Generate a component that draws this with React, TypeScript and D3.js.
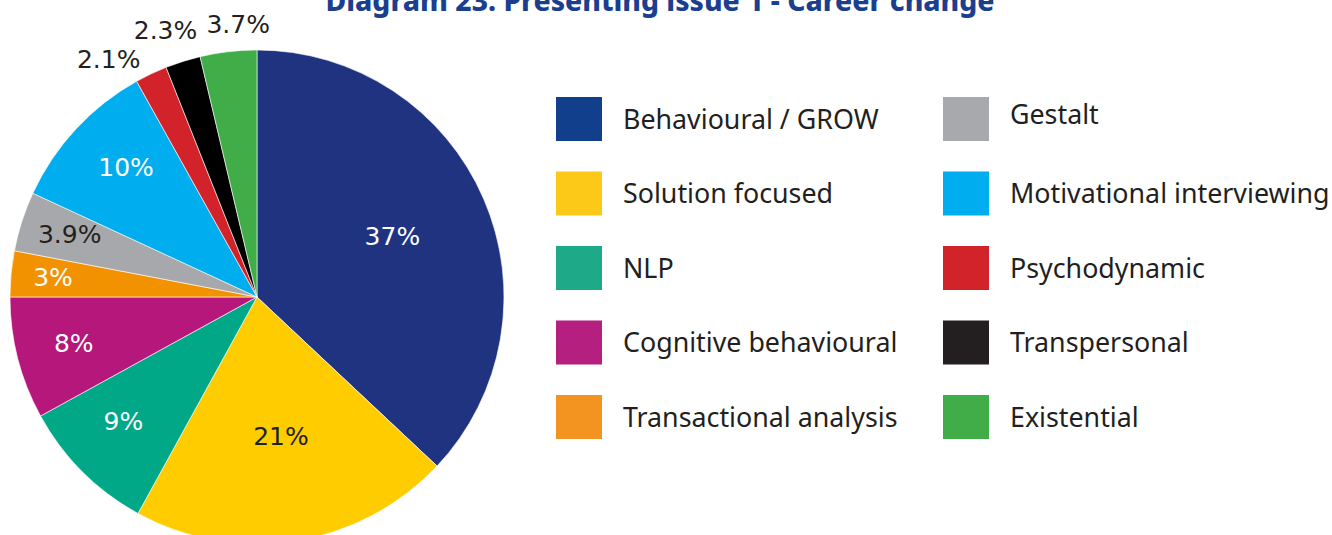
import React from "react";
import * as d3 from "d3";

const categories = [
  "Behavioural / GROW",
  "Solution focused",
  "NLP",
  "Cognitive behavioural",
  "Transactional analysis",
  "Gestalt",
  "Motivational interviewing",
  "Psychodynamic",
  "Transpersonal",
  "Existential",
];
const values = [37, 21, 9, 8, 3, 3.9, 10, 2.1, 2.3, 3.7];
const labels = ["37%", "21%", "9%", "8%", "3%", "3.9%", "10%", "2.1%", "2.3%", "3.7%"];

const sliceColors = ["#1f3380", "#ffcc00", "#00a887", "#b5177a", "#f39200", "#a7a8ab", "#00aeef", "#d2232a", "#000000", "#41ad49"];
const legendColors = ["#123f8c", "#fdc918", "#1eaa88", "#b51f80", "#f39320", "#a7a9ac", "#00aeef", "#d2232a", "#231f20", "#41ad49"];
const labelFill = ["#fff", "#231f20", "#fff", "#fff", "#fff", "#231f20", "#fff", "#231f20", "#231f20", "#231f20"];
// label placement: [radius factor, angle offset in degrees]
const labelPlace: [number, number][] = [
  [0.6, -0.6], [0.575, -0.7], [0.74, 2], [0.765, 0.3], [0.83, 0.2],
  [0.8, 0.7], [0.745, 1.8], [1.134, -6.6], [1.14, -1.5], [1.105, 2.7],
];

const W = 1332, H = 535;
const cx = 257, cy = 297, R = 247;
const LABEL_FONT = "'DejaVu Sans', sans-serif";
const FONT = "'Noto Sans', sans-serif";

export default function App() {
  const pie = d3.pie<number>().sort(null).value((d) => d)(values);
  const arc = d3.arc<d3.PieArcDatum<number>>().innerRadius(0).outerRadius(R);
  const rowY = (i: number) => 119 + i * 74.5;
  return (
    <svg width={W} height={H} style={{ position: "absolute", left: 0, top: 0, background: "#fff" }}>
      <text x={660} y={11} textAnchor="middle" fontFamily={FONT} fontWeight={800} fontSize={28.3} fill="#1b3f8f">
        Diagram 23: Presenting issue 1 - Career change
      </text>
      <g transform={`translate(${cx},${cy})`}>
        {pie.map((p, i) => (
          <path key={i} d={arc(p) || ""} fill={sliceColors[i]} stroke="#fff" strokeWidth={0.6} />
        ))}
        {pie.map((p, i) => {
          const mid = (p.startAngle + p.endAngle) / 2 + (labelPlace[i][1] * Math.PI) / 180;
          const r = R * labelPlace[i][0];
          return (
            <text key={i} x={r * Math.sin(mid)} y={-r * Math.cos(mid)} textAnchor="middle" dominantBaseline="central"
              fontFamily={LABEL_FONT} fontSize={25} fill={labelFill[i]}>
              {labels[i]}
            </text>
          );
        })}
      </g>
      {categories.map((c, i) => {
        const col = Math.floor(i / 5), row = i % 5;
        const x = col === 0 ? 556 : 943;
        const y = rowY(row);
        const ty = i === 5 ? y - 6 : y - 1;
        return (
          <g key={c}>
            <rect x={x} y={y - 22} width={46} height={44} fill={legendColors[i]} />
            <text x={x + 67} y={ty} dominantBaseline="central" fontFamily={FONT} fontSize={26.8} fill="#231f20">
              {c}
            </text>
          </g>
        );
      })}
    </svg>
  );
}
